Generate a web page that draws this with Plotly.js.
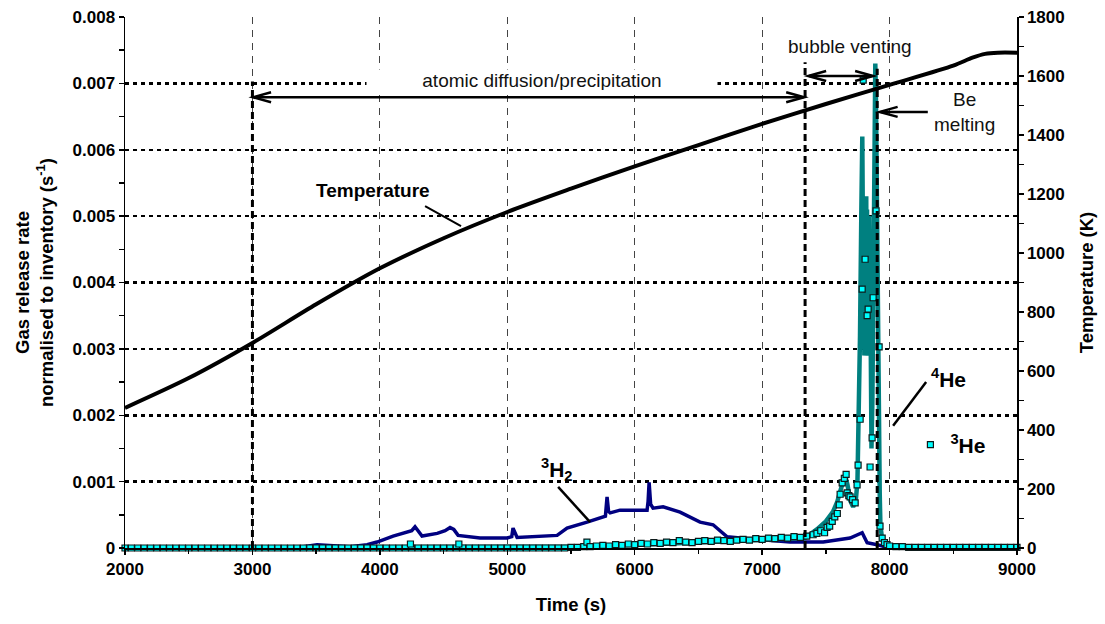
<!DOCTYPE html>
<html><head><meta charset="utf-8">
<script src="https://cdn.plot.ly/plotly-3.0.1.min.js"></script>
<style>html,body{margin:0;padding:0;background:#fff}#chart{width:1105px;height:624px}</style>
</head><body><div id="chart"></div>
<script>
// Temperature (K), right axis
const tempTime = [2000,2500,3000,3500,4000,4500,5000,5500,6000,6500,7000,7500,8000,8500,8650,8750,8850,9000];
const tempK    = [475,576,695,826,948,1050,1139,1218,1294,1366,1438,1505,1570,1635,1662,1675,1679,1679];

// 3H2 release rate (units of 1e-3 s^-1)
const h2Time = [2000,3300,3374,3507,3650,3766,3900,3978,4104,4200,4250,4276,4300,4331,4450,4512,4551,4580,4614,4786,4998,5035,5045,5060,5077,5391,5469,5626,5728,5770,5783,5795,5807,5885,6097,6105,6113,6125,6144,6223,6356,6513,6615,6686,6725,6827,7000,7220,7479,7690,7785,7824,7903,7981,8100,9000];
const h2Rate = [0,0,0.01,0.05,0.04,0.02,0.05,0.09,0.18,0.24,0.26,0.32,0.25,0.18,0.22,0.26,0.31,0.28,0.19,0.15,0.15,0.17,0.30,0.22,0.16,0.19,0.30,0.39,0.45,0.48,0.77,0.55,0.53,0.57,0.57,0.70,0.99,0.66,0.60,0.62,0.54,0.39,0.35,0.24,0.17,0.15,0.12,0.09,0.09,0.15,0.23,0.08,0.05,0.01,0.005,0];

// 4He release rate (units of 1e-3 s^-1)
const he4Time = [2000,3000,4000,5000,5400,5600,5800,6000,6200,6400,6600,6800,7000,7200,7337,7430,7500,7557,7590,7612,7630,7651,7670,7690,7714,7735,7748,7758,7768,7778,7786,7790,
7796,7799,7802,7805,7808,7811,7814,7817,7820,7823,7826,7829,7832,7835,7838,7841,7844,7847,7850,7854,7858,
7865,7872,7880,7888,7893,7898,7903,7908,7914,7919,7923,7928,7940,7955,7975,8000,8200,8500,9000];
const he4Rate = [0.005,0.005,0.005,0.005,0.008,0.02,0.03,0.045,0.055,0.07,0.085,0.10,0.11,0.13,0.15,0.28,0.40,0.55,0.70,0.85,1.00,1.10,0.95,0.72,0.62,0.72,1.00,1.80,3.20,5.00,6.20,5.00,
3.00,5.30,2.90,5.20,3.00,5.00,2.90,5.30,3.10,5.10,2.90,5.00,3.00,4.80,3.10,5.00,2.90,4.50,2.50,1.80,1.50,
2.20,4.00,6.00,7.30,6.80,5.50,4.50,3.80,3.10,2.00,0.80,0.35,0.15,0.07,0.04,0.03,0.02,0.01,0.01];

// 3He release rate (units of 1e-3 s^-1), markers
const he3Time = [2000,2050,2100,2150,2200,2250,2300,2350,2400,2450,2500,2550,2600,2650,2700,2750,2800,2850,2900,2950,
3000,3050,3100,3150,3200,3250,3300,3350,3400,3450,3500,3550,3600,3650,3700,3750,3800,3850,3900,3950,
4000,4050,4100,4150,4200,4250,4300,4350,4400,4450,4500,4550,4600,4650,4700,4750,4800,4850,4900,4950,
5000,5050,5100,5150,5200,5250,5300,5350,5400,5450,4240,4620,
5500,5550,5600,5625,5650,5700,5750,5800,5850,5900,5950,6000,6050,6100,6150,6200,6250,6300,6350,6400,
6450,6500,6550,6600,6650,6700,6750,6800,6850,6900,6950,7000,7050,7100,7150,7200,7250,7300,7350,7400,
7430,7460,7490,7510,7530,7550,7570,7590,7605,7612,7628,7645,7659,7667,7680,7690,7710,7730,7745,7753,
7769,7785,7793,7808,7824,7832,7847,7863,7871,7894,7918,7925,7942,7960,7980,
8000,8050,8100,8150,8200,8250,8300,8350,8400,8450,8500,8550,8600,8650,8700,8750,8800,8850,8900,8950,9000];
const he3Rate = [0,0,0,0,0,0,0,0,0,0,0,0,0,0,0,0,0,0,0,0,
0,0,0,0,0,0,0,0,0,0,0,0,0,0,0,0,0,0,0,0,
0,0,0,0,0,0,0,0,0,0,0,0,0,0,0,0,0,0,0,0,
0,0,0,0,0,0,0,0,0,0,0.06,0.06,
0.01,0.01,0.02,0.09,0.02,0.03,0.04,0.03,0.05,0.04,0.06,0.05,0.07,0.06,0.08,0.07,0.09,0.08,0.11,0.09,
0.08,0.10,0.11,0.10,0.12,0.11,0.10,0.12,0.13,0.12,0.14,0.13,0.15,0.14,0.16,0.15,0.17,0.16,0.18,0.20,
0.22,0.26,0.23,0.31,0.33,0.40,0.47,0.52,0.65,0.81,0.98,1.05,1.11,0.83,0.79,0.77,0.73,0.68,0.95,1.25,
1.94,3.90,7.05,4.35,3.50,3.60,1.22,1.66,3.77,5.08,3.03,0.33,0.15,0.08,0.05,
0.03,0.02,0.02,0.01,0.01,0.01,0.01,0.01,0.01,0.01,0.01,0.01,0.01,0.01,0.01,0.01,0.01,0.01,0.01,0.01,0.01];

const E3 = v => v * 1e-3;
const FONT = 'Liberation Sans, Arial, sans-serif';

const traces = [
  {x: tempTime, y: tempK, yaxis: 'y2', type: 'scatter', mode: 'lines', name: 'Temperature',
   line: {color: '#000', width: 4, shape: 'spline', smoothing: 0.8}, showlegend: false},
  {x: h2Time, y: h2Rate.map(E3), type: 'scatter', mode: 'lines', name: '3H2',
   line: {color: '#000080', width: 3.5}, showlegend: false},
  {x: he4Time, y: he4Rate.map(E3), type: 'scatter', mode: 'lines', name: '4He',
   line: {color: '#008080', width: 4.5}, showlegend: false},
  {x: he3Time, y: he3Rate.map(E3), type: 'scatter', mode: 'markers', name: '<sup>3</sup>He',
   cliponaxis: false,
   marker: {symbol: 'square', size: 6, color: '#00FFFF', line: {color: '#0d1a1a', width: 1.2}},
   showlegend: true}
];

// helper for open arrow heads (decoration)
const sx = 7000 / 892, sy = 0.008 / 531;
function head(t, v, dir) {
  const L = 18 * sx, W = 5 * sy, bt = t - dir * L;
  return {type: 'path', xref: 'x', yref: 'y', layer: 'above',
          path: `M${bt},${v + W} L${t},${v} L${bt},${v - W}`, line: {color: '#000', width: 2.5}};
}
function seg(x0, y0, x1, y1, w, dash) {
  return {type: 'line', xref: 'x', yref: 'y', layer: 'above', x0, y0, x1, y1,
          line: {color: '#000', width: w, dash: dash || 'solid'}};
}

const shapes = [
  seg(3000, 0, 3000, 0.00703, 3, '7px,4px'),
  seg(7337, 0, 7337, 0.00732, 3, '7px,4px'),
  seg(7903, 0, 7903, 0.00722, 3, '7px,4px'),
  // atomic diffusion arrow
  seg(3010, 0.00679, 7325, 0.00679, 2.5), head(3005, 0.00679, -1), head(7330, 0.00679, 1),
  // bubble venting arrow
  seg(7368, 0.00711, 7866, 0.00711, 2.5), head(7361, 0.00711, -1), head(7871, 0.00711, 1),
  // Be melting arrow
  seg(7930, 0.00657, 8300, 0.00657, 2.5), head(7922, 0.00657, -1),
  // label leader lines
  seg(4355, 0.00515, 4637, 0.00485, 2),
  seg(5399, 0.00092, 5650, 0.00039, 2.5),
  seg(8028, 0.00184, 8287, 0.00250, 2.5)
];

const annotations = [
  {x: 5273, y: 0.00705, xref: 'x', yref: 'y', text: 'atomic diffusion/precipitation', showarrow: false,
   bgcolor: '#fff', width: 350, height: 20, borderpad: 0, font: {size: 19, family: FONT, color: '#111'}},
  {x: 7690, y: 0.00755, xref: 'x', yref: 'y', text: 'bubble venting', showarrow: false,
   font: {size: 19, family: FONT, color: '#111'}},
  {x: 8590, y: 0.00657, xref: 'x', yref: 'y', text: 'Be<br>melting', showarrow: false,
   font: {size: 19, family: FONT, color: '#111'}},
  {x: 3947, y: 0.00538, xref: 'x', yref: 'y', text: '<b>Temperature</b>', showarrow: false,
   font: {size: 19, family: FONT, color: '#000'}},
  {x: 5391, y: 0.00119, xref: 'x', yref: 'y', text: '<b><sup>3</sup>H<sub>2</sub></b>', showarrow: false,
   font: {size: 21, family: FONT, color: '#000'}},
  {x: 8460, y: 0.00256, xref: 'x', yref: 'y', text: '<b><sup>4</sup>He</b>', showarrow: false,
   font: {size: 21, family: FONT, color: '#000'}}
];

const tickFont = {family: FONT, size: 17, weight: 700, color: '#000'};
const titleFont = {family: FONT, size: 18.5, weight: 700, color: '#000'};

const layout = {
  width: 1105, height: 624,
  margin: {l: 125, r: 88, t: 17, b: 76},
  paper_bgcolor: '#fff', plot_bgcolor: '#fff',
  font: {family: FONT, color: '#000'},
  xaxis: {range: [2000, 9000], tick0: 2000, dtick: 1000, zeroline: false,
          showgrid: true, gridcolor: '#444', gridwidth: 1, griddash: '7px,6px',
          showline: true, linecolor: '#000', linewidth: 1.5,
          ticks: 'outside', ticklen: 5, tickwidth: 1.5, tickcolor: '#000',
          minor: {dtick: 500, ticks: 'outside', ticklen: 4, tickwidth: 1.5, tickcolor: '#000', showgrid: false},
          tickfont: tickFont, title: {text: 'Time (s)', font: titleFont, standoff: 20}},
  yaxis: {range: [0, 0.008], dtick: 0.001, zeroline: false,
          showgrid: true, gridcolor: '#000', gridwidth: 2.5, griddash: '4px,4px',
          showline: true, linecolor: '#000', linewidth: 1.5,
          ticks: 'outside', ticklen: 5, tickwidth: 1.5, tickcolor: '#000',
          minor: {dtick: 0.0005, ticks: 'outside', ticklen: 5, tickwidth: 1.5, tickcolor: '#000', showgrid: false},
          tickfont: tickFont,
          title: {text: 'Gas release rate<br>normalised to inventory (s<sup>-1</sup>)', font: titleFont, standoff: 14}},
  yaxis2: {overlaying: 'y', side: 'right', range: [0, 1800], dtick: 200, zeroline: false, showgrid: false,
           showline: true, linecolor: '#000', linewidth: 1.5,
           ticks: 'outside', ticklen: 5, tickwidth: 1.5, tickcolor: '#000',
           minor: {dtick: 100, ticks: 'outside', ticklen: 5, tickwidth: 1.5, tickcolor: '#000', showgrid: false},
           tickfont: tickFont, title: {text: 'Temperature (K)', font: titleFont, standoff: 16}},
  showlegend: true,
  legend: {x: 0.8805, y: 0.194, xanchor: 'left', yanchor: 'middle', bgcolor: 'rgba(0,0,0,0)',
           borderwidth: 0, font: {family: FONT, size: 21, weight: 700, color: '#000'}, itemwidth: 30},
  shapes: shapes,
  annotations: annotations
};

Plotly.newPlot('chart', traces, layout, {displayModeBar: false, staticPlot: true});
</script>
</body></html>
